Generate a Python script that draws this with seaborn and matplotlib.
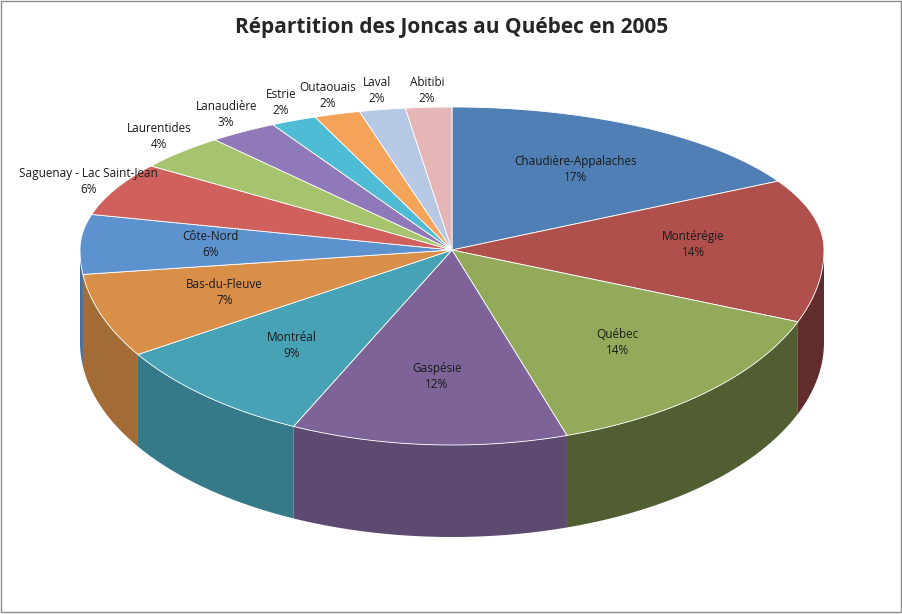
import numpy as np
import matplotlib
matplotlib.use("Agg")
import matplotlib.pyplot as plt
import seaborn as sns
from matplotlib.patches import Polygon, Rectangle
from matplotlib.colors import to_rgb

# Data
regions = ["Chaudière-Appalaches", "Montérégie", "Québec", "Gaspésie", "Montréal",
           "Bas-du-Fleuve", "Côte-Nord", "Saguenay - Lac Saint-Jean", "Laurentides",
           "Lanaudière", "Estrie", "Outaouais", "Laval", "Abitibi"]
shares = [17, 14, 14, 12, 9, 7, 6, 6, 4, 3, 2, 2, 2, 2]
colors = ["#4F7FB4", "#B0504D", "#93AA5A", "#7D6397", "#48A2B6", "#D98F48", "#5C93CF",
          "#D0605C", "#A6C46E", "#9079B8", "#4FBCD6", "#F6A35A", "#B7C8E4", "#E4B7B6"]
outside = {"Saguenay - Lac Saint-Jean", "Laurentides", "Lanaudière", "Estrie",
           "Outaouais", "Laval", "Abitibi"}

sns.set_style("white")
plt.rcParams["font.family"] = "Open Sans"

W, H = 903, 614
fig = plt.figure(figsize=(W / 100, H / 100), dpi=100)
ax = fig.add_axes([0, 0, 1, 1])
ax.set_xlim(0, W)
ax.set_ylim(H, 0)
ax.axis("off")
ax.add_patch(Rectangle((1, 1), W - 3, H - 3, fill=False, ec="#8c8c8c", lw=1))

cx, cy, rx, ry_top, ry_bot, depth = 452, 250, 372, 143, 195, 92


def pt(t, r=1.0):
    # t: angle clockwise from top, radians
    ry = ry_top if np.cos(t) > 0 else ry_bot
    return cx + r * rx * np.sin(t), cy - r * ry * np.cos(t)


def darker(c, f):
    return tuple(v * f for v in to_rgb(c))


fr = np.array(shares) / sum(shares)
ends = np.cumsum(fr) * 2 * np.pi
starts = ends - fr * 2 * np.pi

# sides first, back to front
sides = []
for s, e, c in zip(starts, ends, colors):
    a, b = max(s, np.pi / 2), min(e, 3 * np.pi / 2)
    if a < b:
        ts = np.linspace(a, b, 60)
        top = [pt(t) for t in ts]
        bot = [(x, y + depth) for x, y in top[::-1]]
        mid = (a + b) / 2
        sides.append((-abs(mid - np.pi), top + bot, c, mid))
for _, poly, c, mid in sorted(sides, key=lambda z: z[0]):
    f = 0.55 if mid < np.pi else 0.75
    ax.add_patch(Polygon(poly, closed=True, fc=darker(c, f), ec="none"))

# top faces
for s, e, c in zip(starts, ends, colors):
    ts = np.linspace(s, e, 80)
    poly = [(cx, cy)] + [pt(t) for t in ts]
    ax.add_patch(Polygon(poly, closed=True, fc=c, ec="white", lw=0.6))

# labels
for name, v, s, e in zip(regions, shares, starts, ends):
    m = (s + e) / 2
    if name in outside:
        x, y = pt(m, 1.08)
        y = max(y - 8, 90)
        if name == "Saguenay - Lac Saint-Jean":
            x, y = max(x, 64), y + 5
    else:
        x, y = pt(m, 0.65)
    ax.text(x, y, f"{name}\n{v}%", ha="center", va="center", fontsize=8.5,
            color="#1a1a1a", linespacing=1.3)

ax.text(W / 2, 28, "Répartition des Joncas au Québec en 2005", ha="center",
        va="center", fontsize=15, fontweight="bold")

fig.savefig("out.png", dpi=100)
